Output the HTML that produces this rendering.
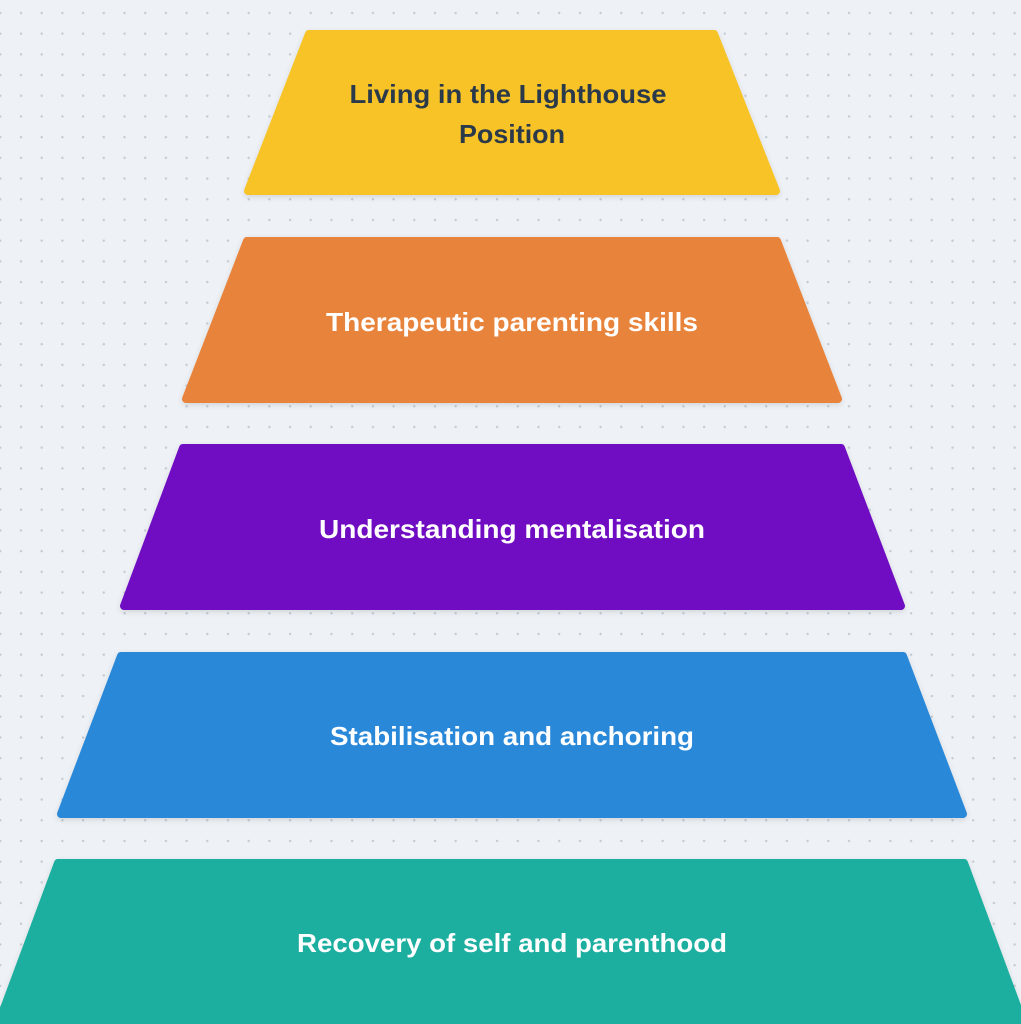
<!DOCTYPE html>
<html><head><style>
html,body{margin:0;padding:0;background:#EEF2F6;width:1021px;height:1024px;overflow:hidden}
svg{display:block}
text{font-family:"Liberation Sans",sans-serif;font-size:26px;font-weight:bold;text-anchor:middle}
</style></head><body>
<svg width="1021" height="1024" viewBox="0 0 1021 1024">
<defs>
<pattern id="d" x="11" y="3" width="20.7" height="20.7" patternUnits="userSpaceOnUse">
<circle cx="10" cy="10" r="1.2" fill="#c3cad3"/>
</pattern>
<filter id="s" x="-10%" y="-10%" width="120%" height="130%"><feDropShadow dx="0" dy="2" stdDeviation="3" flood-color="#000" flood-opacity="0.12"/></filter>
</defs>
<rect width="1021" height="1024" fill="url(#d)"/>
<g stroke-linejoin="round" stroke-width="8" filter="url(#s)">
<polygon points="309,34 714,34 776,191 248,191" fill="#F7C325" stroke="#F7C325"/>
<polygon points="247,241 777,241 838,399 186,399" fill="#E8833A" stroke="#E8833A"/>
<polygon points="183,448 841,448 901,606 124,606" fill="#6F0FC2" stroke="#6F0FC2"/>
<polygon points="121,656 903,656 963,814 61,814" fill="#2C88D9" stroke="#2C88D9"/>
<polygon points="58,863 964,863 1026,1030 -4,1030" fill="#1AAE9F" stroke="#1AAE9F"/>
</g>
<text x="508" y="103" fill="#2B3A4B" textLength="317" lengthAdjust="spacingAndGlyphs">Living in the Lighthouse</text>
<text x="512" y="143" fill="#2B3A4B" textLength="106" lengthAdjust="spacingAndGlyphs">Position</text>
<text x="512" y="331" fill="#fff" textLength="372" lengthAdjust="spacingAndGlyphs">Therapeutic parenting skills</text>
<text x="512" y="538" fill="#fff" textLength="386" lengthAdjust="spacingAndGlyphs">Understanding mentalisation</text>
<text x="512" y="745" fill="#fff" textLength="364" lengthAdjust="spacingAndGlyphs">Stabilisation and anchoring</text>
<text x="512" y="952" fill="#fff" textLength="430" lengthAdjust="spacingAndGlyphs">Recovery of self and parenthood</text>
</svg>
</body></html>
